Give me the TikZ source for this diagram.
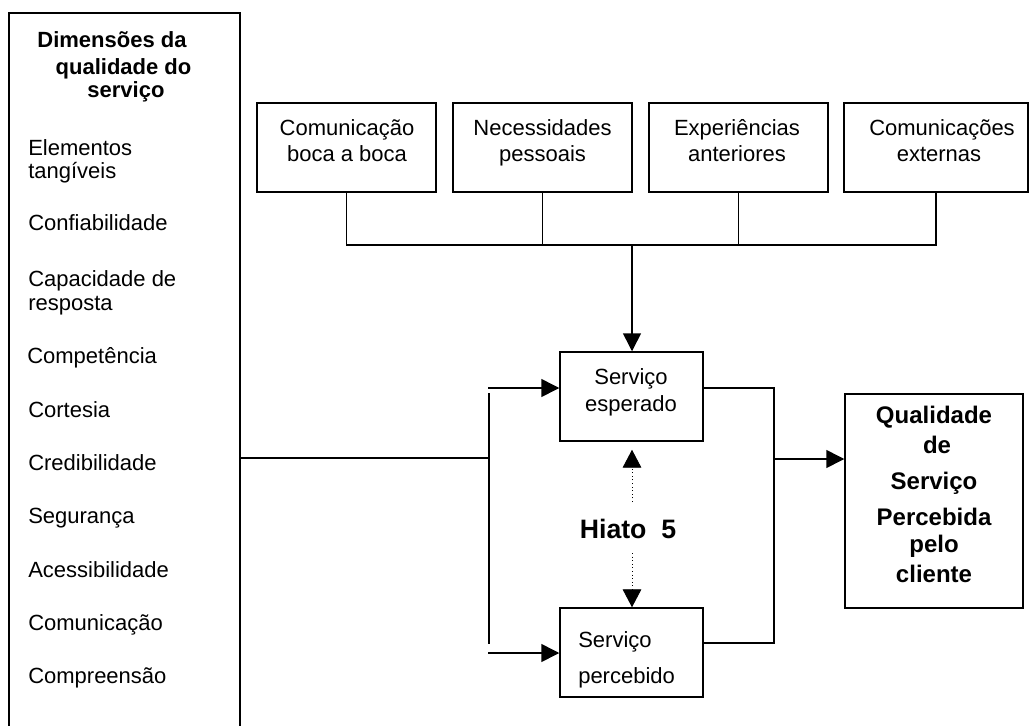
\documentclass[tikz,border=0pt]{standalone}
\usepackage{fontspec}
\setmainfont{Liberation Sans}
\usetikzlibrary{arrows.meta,calc}
\tikzset{
  ln/.style={line width=1.1pt},
  arr/.style={line width=1.1pt,-{Triangle[length=13.5pt,width=13.5pt]}},
  dotarr/.style={line width=0.7pt,dotted,-{Triangle[length=13.5pt,width=14pt]}},
  box/.style={draw,line width=1.1pt,inner sep=0pt},
  txt/.style={font=\fontsize{16.5}{18.75}\selectfont,inner sep=0pt,anchor=base},
  txtl/.style={txt,anchor=base west},
  hdr/.style={font=\bfseries\fontsize{16.5}{18.75}\selectfont,inner sep=0pt,anchor=base},
  qtx/.style={font=\bfseries\fontsize{18}{20}\selectfont,inner sep=0pt,anchor=base},
}
\begin{document}
\begin{tikzpicture}[x=0.75pt,y=-0.75pt]
\clip (0,0) rectangle (1035,725);
\useasboundingbox (0,0) rectangle (1035,725);

% left box
\node[box,minimum width=231*0.75pt,minimum height=727*0.75pt] (dims) at (124.5,376.5) {};
\node[hdr] (h1) at (112,47) {Dimensões da};
\node[hdr] (h2) at (123.5,74) {qualidade do};
\node[hdr] (h3) at (126,97) {serviço};
\node[txtl] (i1) at (28,155) {Elementos};
\node[txtl] (i1b) at (28,178) {tangíveis};
\node[txtl] (i2) at (28,230) {Confiabilidade};
\node[txtl] (i3) at (28,286) {Capacidade de};
\node[txtl] (i3b) at (28,310) {resposta};
\node[txtl] (i4) at (27,363) {Competência};
\node[txtl] (i5) at (28,417) {Cortesia};
\node[txtl] (i6) at (28,470) {Credibilidade};
\node[txtl] (i7) at (28,523) {Segurança};
\node[txtl] (i8) at (28,577) {Acessibilidade};
\node[txtl] (i9) at (28,630) {Comunicação};
\node[txtl] (i10) at (28,683) {Compreensão};

% top boxes
\node[box,minimum width=179*0.75pt,minimum height=89*0.75pt] (b1) at (346.5,147.5) {};
\node[box,minimum width=179*0.75pt,minimum height=89*0.75pt] (b2) at (542.5,147.5) {};
\node[box,minimum width=179*0.75pt,minimum height=89*0.75pt] (b3) at (738.5,147.5) {};
\node[box,minimum width=184*0.75pt,minimum height=89*0.75pt] (b4) at (936,147.5) {};
\node[txt] (t1a) at (347,135) {Comunicação};
\node[txt] (t1b) at (347,161) {boca a boca};
\node[txt] (t2a) at (542.5,135) {Necessidades};
\node[txt] (t2b) at (542.5,161) {pessoais};
\node[txt] (t3a) at (737,135) {Experiências};
\node[txt] (t3b) at (737,161) {anteriores};
\node[txt] (t4a) at (942,135) {Comunicações};
\node[txt] (t4b) at (939,161) {externas};

% service boxes
\node[box,minimum width=143*0.75pt,minimum height=89*0.75pt] (esp) at (631.5,396.5) {};
\node[txt] (ea) at (631,384) {Serviço};
\node[txt] (eb) at (631,411) {esperado};
\node[box,minimum width=143*0.75pt,minimum height=89*0.75pt] (perc) at (631.5,652.5) {};
\node[txtl] (pa) at (578,647) {Serviço};
\node[txtl] (pb) at (578,683) {percebido};

% quality box
\node[box,minimum width=178*0.75pt,minimum height=214*0.75pt] (qual) at (934,501) {};
\node[qtx] (q1) at (934,423) {Qualidade};
\node[qtx] (q2) at (937,453) {de};
\node[qtx] (q3) at (934,489) {Serviço};
\node[qtx] (q4) at (934,525) {Percebida};
\node[qtx] (q5) at (934,552) {pelo};
\node[qtx] (q6) at (934,582) {cliente};

% Hiato
\node[font=\bfseries\fontsize{20}{24}\selectfont,inner sep=0pt,anchor=base] (hiato) at (628,538) {Hiato~~5};

% connectors top
\coordinate (bus) at (632,245);
\draw[ln] (b1.south) |- (b4.south |- bus) -- (b4.south);
\draw[ln] (b2.south) -- (b2.south |- bus);
\draw[ln] (b3.south) -- (b3.south |- bus);
\draw[arr] (bus) -- (bus |- esp.north);

% left connectors
\coordinate (jl) at (489,458);
\draw[ln] (dims.east |- jl) -- (jl);
\coordinate (vt) at (489,393);
\coordinate (vb) at (489,644);
\draw[ln] (vt) -- (vb);
\coordinate (a1) at (488,388);
\draw[arr] (a1) -- (a1 -| esp.west);
\coordinate (a2) at (488,653);
\draw[arr] (a2) -- (a2 -| perc.west);

% right connectors
\coordinate (r1) at (774,388);
\coordinate (r2) at (774,643);
\draw[ln] (r1 -| esp.east) -- (r1) -- (r2) -- (r2 -| perc.east);
\coordinate (r3) at (774,459);
\draw[arr] (r3) -- (r3 -| qual.west);

% dotted gap arrows
\coordinate (d1) at (632,502);
\draw[dotarr,shorten >=6pt] (d1) -- (d1 |- esp.south);
\coordinate (d2) at (632,553);
\draw[dotarr] (d2) -- (d2 |- perc.north);
\end{tikzpicture}
\end{document}
